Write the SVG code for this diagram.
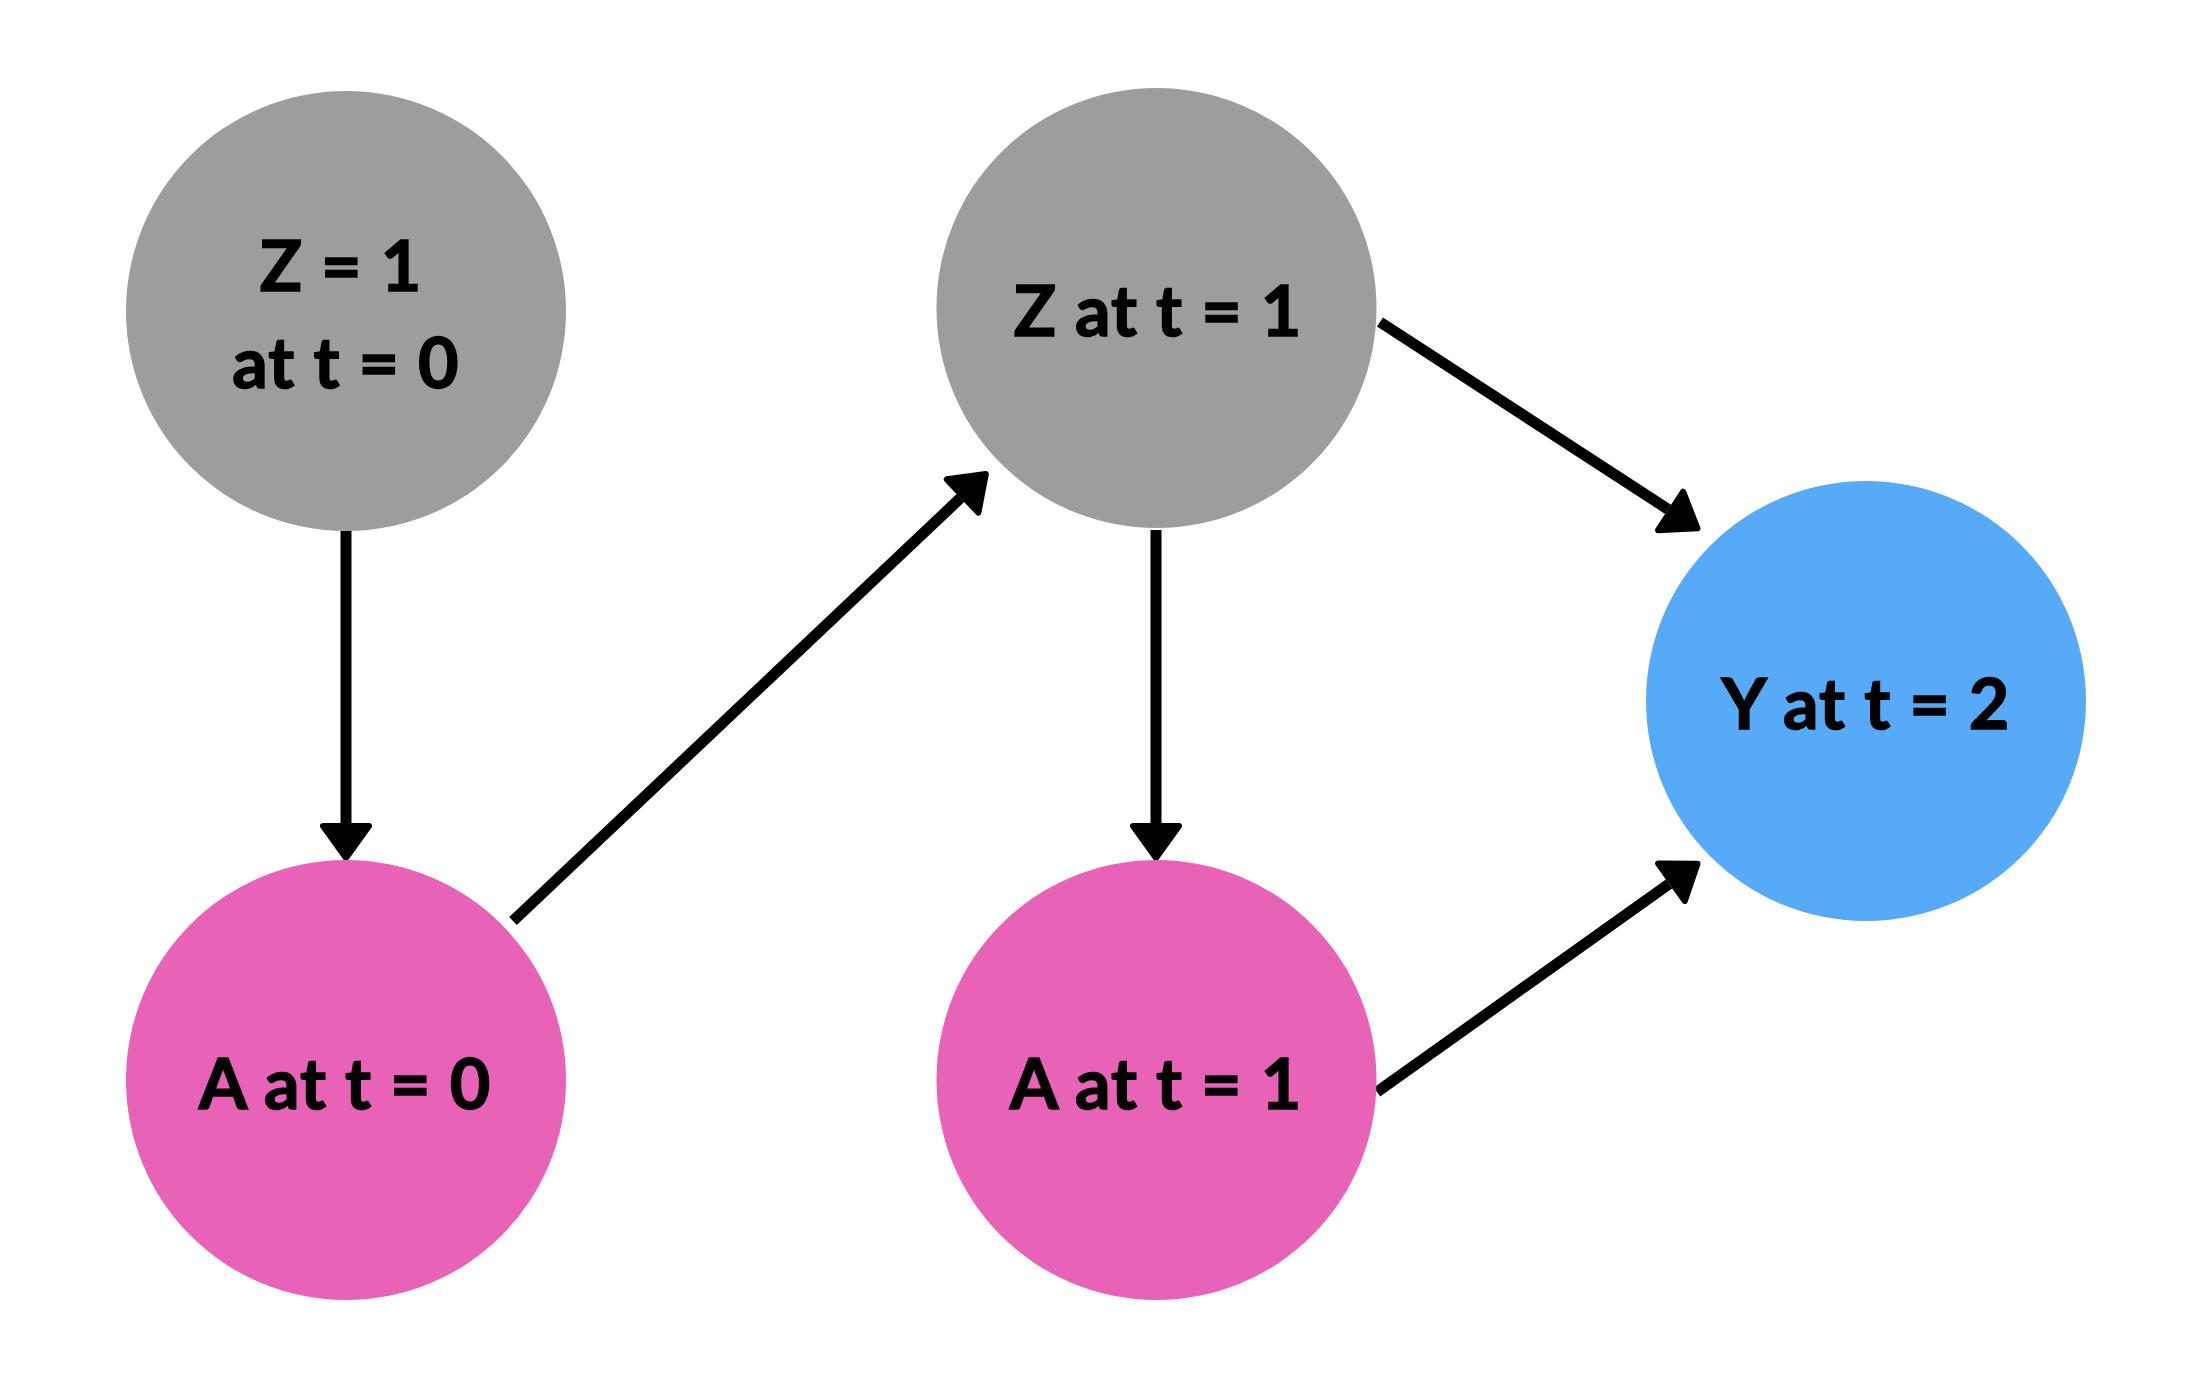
<svg xmlns="http://www.w3.org/2000/svg" width="2198" height="1386" viewBox="0 0 2198 1386">
<style>
.lbl{font-family:Lato,"Liberation Sans",sans-serif;font-weight:700;font-size:70px;fill:#000;stroke:#000;stroke-width:1.5;letter-spacing:1px;text-anchor:middle}
.grey{fill:#9d9d9d}
.pink{fill:#e863b7}
.blue{fill:#57aaf8}
.edge{stroke:#000;stroke-width:11;fill:none;stroke-linecap:butt}
</style>
<defs>
<marker id="ah" markerUnits="userSpaceOnUse" markerWidth="50" markerHeight="60" viewBox="-5 -30 50 60" refX="0" refY="0" orient="auto" overflow="visible">
<path d="M3,-23 L35,0 L3,23 Z" fill="#000" stroke="#000" stroke-width="6" stroke-linejoin="round"/>
</marker>
</defs>
<rect width="2198" height="1386" fill="#fff"/>
<g id="connectors">
<line class="edge" x1="346" y1="531" x2="346" y2="823" marker-end="url(#ah)"/>
<line class="edge" x1="513" y1="921" x2="960.4" y2="498.1" marker-end="url(#ah)"/>
<line class="edge" x1="1156" y1="530" x2="1156" y2="823" marker-end="url(#ah)"/>
<line class="edge" x1="1380" y1="322" x2="1668.1" y2="509.3" marker-end="url(#ah)"/>
<line class="edge" x1="1377" y1="1092" x2="1669" y2="884" marker-end="url(#ah)"/>
</g>
<g id="z0">
<circle class="grey" cx="346" cy="311" r="220"/>
<text class="lbl" x="341" y="291">Z = 1</text>
<text class="lbl" x="346" y="388">at t = 0</text>
</g>
<g id="z1">
<circle class="grey" cx="1156.5" cy="308" r="220"/>
<text class="lbl" x="1158" y="336">Z at t = 1</text>
</g>
<g id="a0">
<circle class="pink" cx="346" cy="1080" r="220"/>
<text class="lbl" x="345" y="1109">A at t = 0</text>
</g>
<g id="a1">
<circle class="pink" cx="1156.5" cy="1080" r="220"/>
<text class="lbl" x="1156" y="1109">A at t = 1</text>
</g>
<g id="y2">
<circle class="blue" cx="1866" cy="701" r="220"/>
<text class="lbl" x="1866" y="729">Y at t = 2</text>
</g>
</svg>
